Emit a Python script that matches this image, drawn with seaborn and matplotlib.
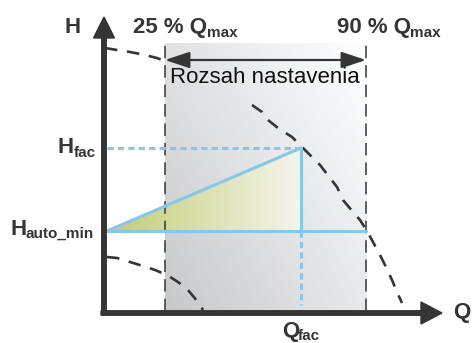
import numpy as np
import pandas as pd
import seaborn as sns
import matplotlib.pyplot as plt
from matplotlib.patches import Polygon

sns.set_theme(style="white")
plt.rcParams['font.family'] = ['Liberation Sans', 'DejaVu Sans']
plt.rcParams['lines.scale_dashes'] = False

upper_q = [1, 13, 26, 41, 53, 63,
           148, 158, 164, 174, 188, 198, 208, 216, 226, 233, 239, 249, 256, 263,
           269, 276, 282, 288, 293, 298]
upper_h = [265, 263, 261, 258, 255, 251,
           208, 201, 193, 185, 176, 166, 156, 148, 135, 126, 113, 101, 93, 82,
           71, 58, 46, 33, 21, 10]
upper_seg = [0] * 6 + [1] * 20

lower_q = [3, 13, 26, 39, 51, 63, 74, 84, 94, 99]
lower_h = [56, 55, 51, 47, 43, 38, 31, 23, 11, 3]

q_25 = 61
q_90 = 262
q_fac = 197
h_fac = 165
h_auto_min = 82
h_range = 253
h_top = 270
q_axis_end = 338
h_axis_end = 296

dark = '#353535'
blue = '#86c7ea'

fig = plt.figure(figsize=(4.73, 3.43), dpi=100)
ax = fig.add_axes([0, 0, 1, 1])
ax.set_xlim(-104, 369)
ax.set_ylim(-30, 313)
ax.axis('off')

# grey gradient band between 25 % and 90 % Qmax
u = np.linspace(0, 1, 200)[None, :]
v = np.linspace(0, 1, 200)[:, None]
c = 0.78 * (1 - u) * (1 - v) + 0.91 * u * (1 - v) + 0.88 * (1 - u) * v + 1.0 * u * v
band = np.clip(np.dstack([c, c + 0.004, c + 0.012]), 0, 1)
ax.imshow(band, extent=[q_25, q_90, 2, h_top], origin='lower', aspect='auto', zorder=0)

# olive triangle fading to white
tri = Polygon([[3, h_auto_min], [q_fac, h_fac], [q_fac, h_auto_min]], closed=True,
              facecolor='none', edgecolor='none')
ax.add_patch(tri)
g = np.linspace(0, 1, 256)[None, :, None]
left = np.array([0.76, 0.80, 0.45])
right = np.array([0.96, 0.96, 0.93])
im = ax.imshow(left + (right - left) * g, extent=[3, q_fac, h_auto_min, h_fac],
               origin='lower', aspect='auto', zorder=1)
im.set_clip_path(tri)

# pump curves
upper = pd.DataFrame({'Q': upper_q, 'H': upper_h, 'seg': upper_seg})
lower = pd.DataFrame({'Q': lower_q, 'H': lower_h, 'seg': 0})
for df in (upper, lower):
    sns.lineplot(data=df, x='Q', y='H', units='seg', estimator=None, sort=False,
                 color=dark, lw=1.9, linestyle=(0, (9, 7)), ax=ax, zorder=3)

# 25 % and 90 % limits
ax.vlines([q_25, q_90], 2, h_top, colors=dark, lw=1.1, linestyles=[(0, (9, 5))], zorder=2)

# blue construction lines
ax.plot([3, q_fac], [h_auto_min, h_fac], color=blue, lw=2.2, zorder=4)
ax.plot([q_fac, q_fac], [h_fac, h_auto_min], color=blue, lw=2.2, zorder=4)
ax.plot([3, q_90], [h_auto_min, h_auto_min], color=blue, lw=2.2, zorder=4)
ax.plot([3, q_fac], [h_fac, h_fac], color=blue, lw=2.2, linestyle=(0, (4.5, 3)), zorder=4)
ax.plot([q_fac, q_fac], [h_auto_min, 8], color=blue, lw=2.2, linestyle=(0, (4.5, 3)), zorder=4)

# axes with arrow heads
ax.arrow(-3, 0, q_axis_end + 3, 0, width=4.5, head_width=22, head_length=21,
         length_includes_head=True, color=dark, zorder=5)
ax.arrow(0, -2, 0, h_axis_end + 2, width=4.5, head_width=21, head_length=21,
         length_includes_head=True, color=dark, zorder=5)

# setting range arrow
ax.annotate('', xy=(q_25, h_range), xytext=(q_90, h_range),
            arrowprops=dict(arrowstyle='<|-|>,head_length=1.5,head_width=0.5',
                            mutation_scale=10, lw=1.6, color=dark,
                            shrinkA=0, shrinkB=0), zorder=5)

# labels
big = dict(fontsize=16, fontweight='bold', color=dark, ha='left', va='baseline')
sub = dict(fontsize=11, fontweight='bold', color=dark, ha='left', va='baseline')
ax.text(-40, 280, 'H', **big)
ax.text(29, 280, '25 % Q', **big)
ax.text(103, 276, 'max', **sub)
ax.text(233, 280, '90 % Q', **big)
ax.text(306, 276, 'max', **sub)
ax.text(-47, 160, 'H', **big)
ax.text(-30, 156, 'fac', **sub)
ax.text(-94, 78, 'H', **big)
ax.text(-79, 75, 'auto_min', **sub)
ax.text(349, -5, 'Q', **big)
ax.text(178, -24, 'Q', **big)
ax.text(194, -27, 'fac', **sub)
ax.text(66, 230, 'Rozsah nastavenia', fontsize=16, color='#111111',
        ha='left', va='baseline', zorder=6)

fig.savefig('out.png', dpi=100)
